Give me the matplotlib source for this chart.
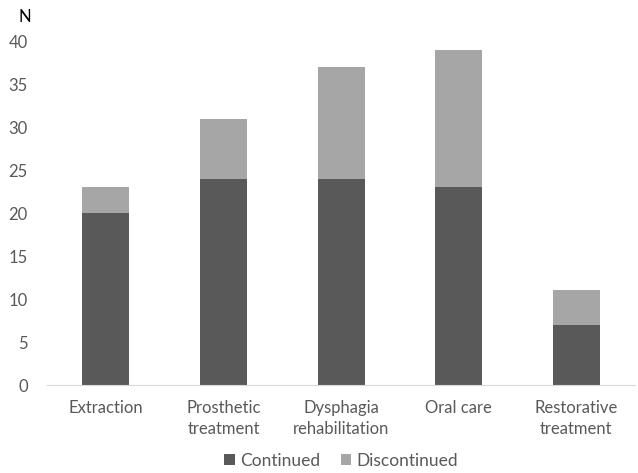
import matplotlib.pyplot as plt
import numpy as np

plt.rcParams['font.family'] = ['Lato', 'DejaVu Sans']

categories = ['Extraction', 'Prosthetic\ntreatment', 'Dysphagia\nrehabilitation',
              'Oral care', 'Restorative\ntreatment']
continued = [20, 24, 24, 23, 7]
discontinued = [3, 7, 13, 16, 4]

dark = '#595959'
light = '#a6a6a6'
txt = '#595959'

fig = plt.figure(figsize=(6.38, 4.73), dpi=100)
ax = fig.add_axes([0.074, 0.186, 0.921, 0.727])

x = np.arange(len(categories))
ax.bar(x, continued, width=0.4, color=dark, label='Continued')
ax.bar(x, discontinued, width=0.4, bottom=continued, color=light, label='Discontinued')

ax.set_xlim(-0.5, len(categories) - 0.5)
ax.set_ylim(0, 40)
ax.set_yticks(np.arange(0, 41, 5))
ax.set_xticks(x)
ax.set_xticklabels(categories, fontsize=12, color=txt, linespacing=1.4)
ax.tick_params(axis='y', labelsize=12, labelcolor=txt, length=0, pad=14)
ax.tick_params(axis='x', length=0, pad=11)

for s in ['top', 'right', 'left']:
    ax.spines[s].set_visible(False)
ax.spines['bottom'].set_color('#d9d9d9')

fig.text(0.039, 0.965, 'N', fontsize=12, color='black', ha='center', va='center')

ax.legend(loc='center', bbox_to_anchor=(0.5, -0.22), ncol=2, frameon=False,
          fontsize=12.5, labelcolor=txt, handlelength=0.6, handleheight=0.6,
          handletextpad=0.3, columnspacing=1.2)

fig.savefig('out.png', dpi=100)
